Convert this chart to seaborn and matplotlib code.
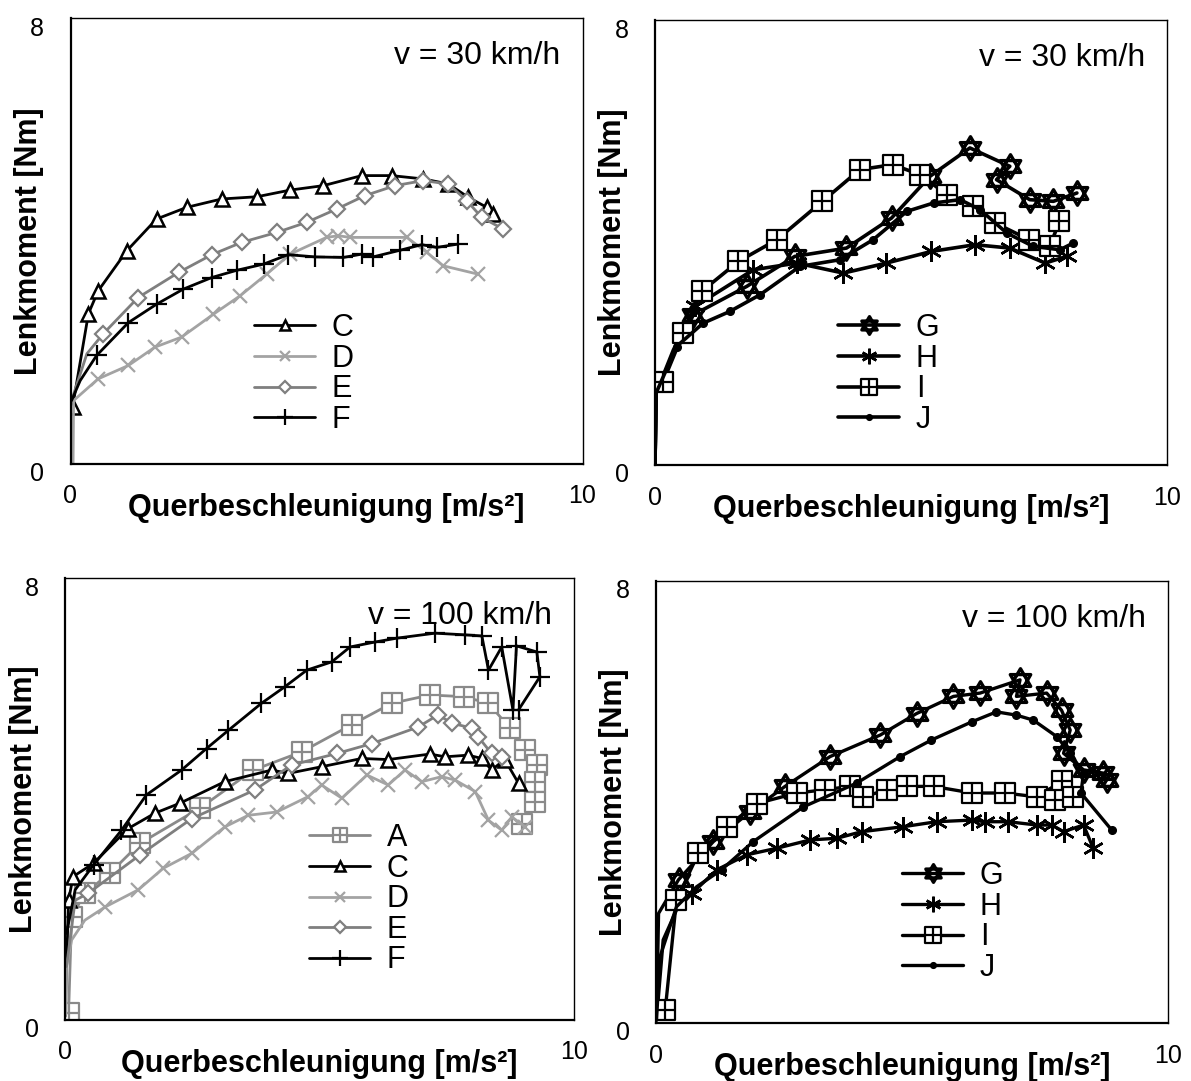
import matplotlib
matplotlib.use("Agg")
import matplotlib.pyplot as plt
import matplotlib.transforms as mtrans
from matplotlib.path import Path
import seaborn as sns

# ---------------- data ----------------
# Panel 1: v = 30 km/h, vehicles C-F
c30_x = [0.04, 0.35, 0.54, 1.10, 1.68, 2.27, 2.95, 3.64, 4.29, 4.94, 5.69, 6.27, 6.89, 7.38, 7.77, 8.13, 8.26]
c30_y = [1.01, 2.69, 3.10, 3.82, 4.39, 4.60, 4.75, 4.79, 4.91, 4.99, 5.17, 5.17, 5.11, 5.02, 4.78, 4.60, 4.48]
d30_x = [0.05, 0.06, 0.54, 1.13, 1.65, 2.17, 2.79, 3.31, 3.83, 4.29, 5.00, 5.23, 5.46, 6.57, 6.96, 7.28, 7.96]
d30_y = [0.00, 1.13, 1.52, 1.76, 2.09, 2.27, 2.68, 3.01, 3.40, 3.76, 4.06, 4.09, 4.06, 4.06, 3.79, 3.55, 3.40]
e30_x = [0.02, 0.32, 0.64, 1.32, 2.11, 2.76, 3.34, 4.03, 4.61, 5.20, 5.75, 6.34, 6.89, 7.38, 7.74, 8.03, 8.45]
e30_y = [1.13, 1.97, 2.33, 2.98, 3.43, 3.75, 3.97, 4.15, 4.33, 4.57, 4.81, 4.99, 5.08, 5.02, 4.72, 4.42, 4.21]
f30_x = [0.02, 0.19, 0.51, 1.13, 1.68, 2.20, 2.76, 3.25, 3.77, 4.25, 4.78, 5.33, 5.69, 5.91, 6.44, 6.86, 7.15, 7.57]
f30_y = [1.13, 1.49, 1.94, 2.53, 2.86, 3.13, 3.34, 3.47, 3.58, 3.75, 3.71, 3.70, 3.76, 3.71, 3.83, 3.93, 3.88, 3.94]

# Panel 2: v = 30 km/h, vehicles G-J
g30_x = [0.00, 0.02, 0.36, 0.75, 1.79, 2.73, 3.74, 4.62, 5.37, 6.15, 6.93, 6.67, 7.32, 7.78, 8.24]
g30_y = [0.00, 1.29, 2.01, 2.70, 3.21, 3.75, 3.90, 4.44, 5.19, 5.70, 5.37, 5.13, 4.77, 4.74, 4.89]
h30_x = [0.00, 0.02, 0.36, 0.78, 1.92, 2.77, 3.68, 4.52, 5.40, 6.25, 6.93, 7.62, 8.04]
h30_y = [0.00, 1.29, 2.07, 2.85, 3.51, 3.63, 3.45, 3.63, 3.84, 3.96, 3.90, 3.63, 3.75]
i30_x = [0.00, 0.02, 0.16, 0.55, 0.91, 1.63, 2.38, 3.27, 4.00, 4.64, 5.18, 5.70, 6.22, 6.64, 7.31, 7.71, 7.90]
i30_y = [0.00, 1.35, 1.50, 2.37, 3.12, 3.66, 4.05, 4.74, 5.31, 5.40, 5.22, 4.86, 4.65, 4.35, 4.05, 3.93, 4.38]
j30_x = [0.00, 0.02, 0.42, 0.94, 1.46, 2.05, 2.83, 3.61, 4.26, 4.92, 5.44, 5.96, 6.35, 6.87, 7.39, 7.91, 8.17]
j30_y = [0.00, 1.29, 2.13, 2.55, 2.76, 3.06, 3.57, 3.69, 4.05, 4.56, 4.71, 4.77, 4.59, 4.17, 3.93, 3.87, 3.99]

# Panel 3: v = 100 km/h, vehicles A, C-F
a100_x = [0.07, 0.13, 0.39, 0.88, 1.47, 2.65, 3.70, 4.65, 5.63, 6.42, 7.17, 7.83, 8.32, 8.74, 9.04, 9.27, 9.23, 9.23, 8.97]
a100_y = [0.11, 1.86, 2.29, 2.65, 3.19, 3.83, 4.52, 4.85, 5.34, 5.73, 5.88, 5.85, 5.73, 5.28, 4.88, 4.61, 4.31, 3.95, 3.55]
c100_x = [0.00, 0.07, 0.16, 0.56, 1.24, 1.77, 2.26, 3.14, 4.06, 4.39, 5.04, 5.83, 6.35, 7.17, 7.47, 7.92, 8.19, 8.38, 8.64, 8.91]
c100_y = [0.05, 2.16, 2.59, 2.83, 3.46, 3.74, 3.92, 4.31, 4.52, 4.46, 4.58, 4.73, 4.71, 4.81, 4.76, 4.79, 4.73, 4.52, 4.71, 4.28]
d100_x = [0.02, 0.03, 0.13, 0.39, 0.79, 1.44, 1.93, 2.49, 3.14, 3.60, 4.16, 4.78, 5.04, 5.44, 5.93, 6.35, 6.68, 7.01, 7.40, 7.66, 8.06, 8.32, 8.58, 8.78, 9.04]
d100_y = [0.10, 0.96, 1.44, 1.80, 2.04, 2.35, 2.74, 3.01, 3.49, 3.70, 3.76, 4.04, 4.25, 4.01, 4.43, 4.25, 4.52, 4.31, 4.40, 4.34, 4.13, 3.61, 3.43, 3.67, 3.49]
e100_x = [0.03, 0.20, 0.46, 1.47, 2.49, 3.73, 4.45, 5.34, 6.03, 6.94, 7.33, 7.60, 7.99, 8.12, 8.38, 8.58]
e100_y = [0.96, 2.16, 2.29, 2.98, 3.64, 4.16, 4.61, 4.82, 5.00, 5.30, 5.52, 5.37, 5.28, 5.12, 4.82, 4.76]
f100_x = [0.03, 0.20, 0.56, 1.11, 1.60, 2.29, 2.78, 3.21, 3.86, 4.32, 4.75, 5.24, 5.60, 6.09, 6.52, 7.27, 7.86, 8.19, 8.32, 8.58, 8.80, 8.87, 9.27, 9.33, 8.91]
f100_y = [1.56, 2.35, 2.80, 3.43, 4.07, 4.52, 4.91, 5.24, 5.73, 6.03, 6.33, 6.48, 6.75, 6.84, 6.91, 7.00, 6.97, 6.95, 6.33, 6.75, 5.61, 6.77, 6.66, 6.21, 5.61]

# Panel 4: v = 100 km/h, vehicles G-J
g100_x = [0.01, 0.05, 0.44, 1.12, 1.84, 2.52, 3.40, 4.38, 5.09, 5.81, 6.33, 7.11, 7.04, 7.63, 7.92, 8.09, 7.96, 8.35, 8.74, 8.80]
g100_y = [0.05, 1.98, 2.59, 3.28, 3.82, 4.28, 4.82, 5.21, 5.60, 5.91, 5.97, 6.21, 5.91, 5.97, 5.66, 5.30, 4.88, 4.58, 4.52, 4.40]
h100_x = [0.01, 0.14, 0.40, 0.70, 1.19, 1.77, 2.36, 3.01, 3.53, 4.02, 4.83, 5.48, 6.17, 6.43, 6.88, 7.44, 7.73, 7.96, 8.35, 8.54]
h100_y = [0.05, 1.50, 2.04, 2.34, 2.77, 3.04, 3.16, 3.31, 3.34, 3.46, 3.55, 3.64, 3.67, 3.64, 3.64, 3.58, 3.58, 3.46, 3.58, 3.16]
i100_x = [0.01, 0.18, 0.40, 0.83, 1.38, 1.97, 2.75, 3.30, 3.79, 4.05, 4.51, 4.90, 5.42, 6.17, 6.82, 7.44, 7.92, 7.79, 8.15]
i100_y = [0.05, 0.23, 2.22, 3.07, 3.55, 3.97, 4.16, 4.22, 4.28, 4.09, 4.22, 4.28, 4.28, 4.16, 4.16, 4.09, 4.37, 4.03, 4.09]
j100_x = [0.01, 0.08, 0.40, 0.79, 1.28, 1.90, 2.88, 3.92, 4.77, 5.38, 6.17, 6.65, 7.04, 7.37, 7.83, 8.09, 8.35, 8.30, 8.90]
j100_y = [0.05, 1.20, 2.10, 2.46, 2.77, 3.28, 3.91, 4.34, 4.82, 5.12, 5.45, 5.63, 5.57, 5.48, 5.18, 4.88, 4.52, 4.16, 3.49]

x_label = "Querbeschleunigung [m/s²]"
y_label = "Lenkmoment [Nm]"
speed_labels = ["v = 30 km/h", "v = 30 km/h", "v = 100 km/h", "v = 100 km/h"]
x_ticks = [0, 10]
y_ticks = [0, 8]

# ---------------- marker shapes ----------------
M, L, C = Path.MOVETO, Path.LINETO, Path.CLOSEPOLY
sq_cross = Path([(-1, -1), (1, -1), (1, 1), (-1, 1), (-1, -1), (0, -1), (0, 1), (-1, 0), (1, 0)],
                [M, L, L, L, C, M, L, M, L])
hexagram = Path([(0, 1), (-0.866, -0.5), (0.866, -0.5), (0, 1),
                 (0, -1), (-0.866, 0.5), (0.866, 0.5), (0, -1)],
                [M, L, L, C, M, L, L, C])

BLACK = "#000000"
GRAY = "#7f7f7f"
LGRAY = "#a3a3a3"
AGRAY = "#8a8a8a"

styles = {
    "A": dict(color=AGRAY, marker=sq_cross, ms=14, mfc="white", mew=1.6),
    "C": dict(color=BLACK, marker="^", ms=10, mfc="white", mew=1.8),
    "D": dict(color=LGRAY, marker="x", ms=10, mfc="none", mew=1.6),
    "E": dict(color=GRAY, marker="D", ms=8.5, mfc="white", mew=1.6),
    "F": dict(color=BLACK, marker="+", ms=15, mfc="none", mew=1.6),
    "G": dict(color=BLACK, marker=hexagram, ms=17, mfc="white", mew=2.4),
    "H": dict(color=BLACK, marker=(6, 2, 0), ms=15, mfc="none", mew=1.8),
    "I": dict(color=BLACK, marker=sq_cross, ms=15, mfc="white", mew=1.6),
    "J": dict(color=BLACK, marker="o", ms=5.5, mfc=BLACK, mew=1.0),
}

panels = [
    dict(rect=[70.5, 18, 582.5, 463.5], lw=2.0,
         series=[("C", c30_x, c30_y, 0), ("D", d30_x, d30_y, 2),
                 ("E", e30_x, e30_y, 2), ("F", f30_x, f30_y, 2)],
         leg=(254, 313)),
    dict(rect=[655, 20, 1167, 465], lw=2.6,
         series=[("G", g30_x, g30_y, 3), ("H", h30_x, h30_y, 3),
                 ("I", i30_x, i30_y, 2), ("J", j30_x, j30_y, 2)],
         leg=(838, 313)),
    dict(rect=[65, 578, 574, 1019.5], lw=2.0,
         series=[("A", a100_x, a100_y, 0), ("C", c100_x, c100_y, 1),
                 ("D", d100_x, d100_y, 4), ("E", e100_x, e100_y, 2),
                 ("F", f100_x, f100_y, 2)],
         leg=(309, 823)),
    dict(rect=[656, 581, 1168, 1022.7], lw=2.4,
         series=[("G", g100_x, g100_y, 2), ("H", h100_x, h100_y, 3),
                 ("I", i100_x, i100_y, 1), ("J", j100_x, j100_y, 4)],
         leg=(902, 861)),
]

W, H = 1191, 1081
sns.set_theme(style="white")
plt.rcParams["font.family"] = ["Liberation Sans", "DejaVu Sans"]
plt.rcParams["text.color"] = "black"
plt.rcParams["axes.labelcolor"] = "black"
plt.rcParams["xtick.color"] = "black"
plt.rcParams["ytick.color"] = "black"
plt.rcParams["axes.edgecolor"] = "black"

fig = plt.figure(figsize=(W / 100, H / 100), dpi=100)

for k, p in enumerate(panels):
    x0, y0, x1, y1 = p["rect"]
    ax = fig.add_axes([x0 / W, 1 - y1 / H, (x1 - x0) / W, (y1 - y0) / H])
    for name, xs, ys, start in p["series"]:
        st = styles[name]
        sns.lineplot(x=xs, y=ys, sort=False, estimator=None, ax=ax,
                     color=st["color"], lw=p["lw"], marker=st["marker"], ms=st["ms"],
                     mfc=st["mfc"], mec=st["color"], mew=st["mew"],
                     markevery=slice(start, None), label=name)
    ax.set_xlim(0, 10)
    ax.set_ylim(0, 8)
    ax.set_xticks(x_ticks)
    ax.set_yticks(y_ticks)
    ax.set_xticklabels([str(v) for v in x_ticks], fontsize=18)
    ax.set_yticklabels([str(v) for v in y_ticks], fontsize=18)
    ax.tick_params(axis="x", direction="out", length=11, width=1.2, color=BLACK,
                   labelcolor=BLACK, pad=4)
    ax.tick_params(axis="y", direction="out", length=11, width=1.6, color="#8c8c8c",
                   labelcolor=BLACK, pad=8)
    off = mtrans.ScaledTranslation(0, -8 / 100, fig.dpi_scale_trans)
    for lab in ax.get_yticklabels():
        lab.set_transform(lab.get_transform() + off)
    for s in ["left", "bottom"]:
        ax.spines[s].set_linewidth(1.6)
        ax.spines[s].set_color(BLACK)
    for s in ["top", "right"]:
        ax.spines[s].set_linewidth(1.0)
        ax.spines[s].set_color(BLACK)
    ax.set_xlabel(x_label, fontsize=22, fontweight="bold", va="baseline", color=BLACK)
    ax.xaxis.set_label_coords(0.5, -(52.5) / (y1 - y0))
    ax.set_ylabel(y_label, fontsize=22, fontweight="bold", va="center", color=BLACK)
    ax.yaxis.set_label_coords(-(41 if k % 2 == 0 else 42) / (x1 - x0), 0.5)
    # speed annotation
    ax.text(1 - 22 / (x1 - x0), 1 - 46 / (y1 - y0), speed_labels[k], transform=ax.transAxes,
            ha="right", va="baseline", fontsize=23, color=BLACK)
    lx, ly = p["leg"]
    leg = ax.legend(loc="upper left", bbox_to_anchor=((lx - x0) / (x1 - x0), (y1 - ly) / (y1 - y0)),
                    frameon=False, fontsize=22, handlelength=2.0, handletextpad=0.55,
                    labelspacing=0.02, borderpad=0, borderaxespad=0, markerscale=0.75)
    for t in leg.get_texts():
        t.set_color(BLACK)
    ax.grid(False)

fig.savefig("out.png", dpi=100)
